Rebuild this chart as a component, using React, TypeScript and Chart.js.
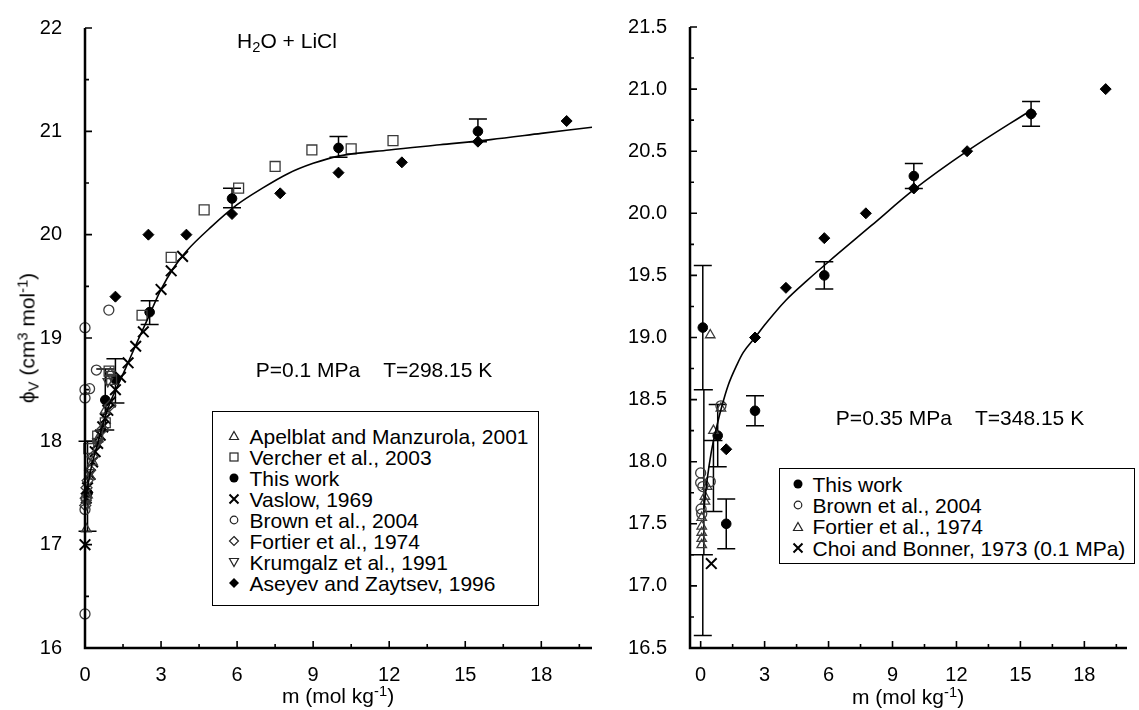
import React, { useEffect, useRef } from "react";
import { Chart, registerables } from "chart.js";
Chart.register(...registerables);

const FONT = '"Liberation Sans", Arial, Helvetica, sans-serif';

// ================= LEFT PANEL (P=0.1 MPa, T=298.15 K) =================
const L_apelblat = [[0.05, 17.15], [0.1, 17.48], [0.2, 17.66], [0.3, 17.8], [0.5, 18.02], [0.8, 18.3], [1.0, 18.66]];
const L_vercher = [[0.15, 17.93], [0.5, 18.05], [0.8, 18.18], [0.95, 18.68], [1.05, 18.6], [2.25, 19.22], [3.4, 19.78], [4.7, 20.24], [6.06, 20.45], [7.5, 20.66], [8.95, 20.82], [10.5, 20.83], [12.15, 20.91]];
const L_thisWork = [[0.1, 17.5], [0.8, 18.4], [1.2, 18.6], [2.55, 19.25], [5.8, 20.35], [10, 20.84], [15.5, 21.0]];
const L_thisWorkErr = [[17.13, 18.0], [18.11, 18.7], [18.37, 18.8], [19.13, 19.36], [20.26, 20.45], [20.75, 20.95], [20.9, 21.12]];
const L_vaslow = [[0, 17.0], [0.05, 17.45], [0.1, 17.55], [0.2, 17.68], [0.3, 17.8], [0.4, 17.9], [0.5, 17.98], [0.6, 18.06], [0.7, 18.14], [0.8, 18.22], [0.9, 18.3], [1.0, 18.38], [1.2, 18.5], [1.4, 18.62], [1.7, 18.76], [2.0, 18.92], [2.3, 19.06], [3.0, 19.47], [3.4, 19.65], [3.85, 19.79]];
const L_brown = [[0, 16.33], [0, 19.1], [0, 18.5], [0, 18.42], [0.18, 18.51], [0.45, 18.69], [0.94, 19.27], [0, 17.34], [0.05, 17.45]];
const L_fortier = [[0.01, 17.38], [0.03, 17.45], [0.06, 17.55], [0.1, 17.62], [0.2, 17.72], [0.3, 17.85], [0.5, 18.0], [0.7, 18.12], [1.0, 18.35]];
const L_krumgalz = [[0.05, 17.4], [0.2, 17.7], [0.5, 18.0], [0.9, 18.58], [1.0, 18.65]];
const L_aseyev = [[1.2, 19.4], [2.5, 20.0], [4.0, 20.0], [5.8, 20.2], [7.7, 20.4], [10, 20.6], [12.5, 20.7], [15.5, 20.9], [19, 21.1]];
const L_fitM = [0, 0.1, 0.25, 0.5, 0.75, 1, 1.5, 2, 2.5, 3, 3.5, 4, 5, 6, 7, 8, 9, 10, 12, 14, 16, 18, 20];
const L_fitY = [17.4, 17.55, 17.75, 17.98, 18.2, 18.38, 18.65, 18.93, 19.2, 19.47, 19.68, 19.84, 20.08, 20.29, 20.45, 20.59, 20.69, 20.76, 20.82, 20.87, 20.92, 20.98, 21.04];
const L_yLabels = [16, 17, 18, 19, 20, 21, 22];
const L_yMinor = [16.5, 17.5, 18.5, 19.5, 20.5, 21.5];
const L_xLabels = [0, 3, 6, 9, 12, 15, 18];
const L_xMinor = [1.5, 4.5, 7.5, 10.5, 13.5, 16.5, 19.5];

// ================= RIGHT PANEL (P=0.35 MPa, T=348.15 K) =================
const R_thisWork = [[0.1, 19.08], [0.8, 18.21], [1.2, 17.5], [2.55, 18.41], [5.8, 19.5], [10, 20.3], [15.5, 20.8]];
const R_thisWorkErr = [[18.58, 19.58], [17.96, 18.46], [17.3, 17.7], [18.29, 18.53], [19.39, 19.61], [20.2, 20.4], [20.7, 20.9]];
const R_extraBars = [[0.1, 16.6, 17.25], [0.15, 17.25, 18.58], [0.6, 17.6, 18.17]];
const R_brown = [[0, 17.91], [0, 17.83], [0.02, 17.62], [0.05, 17.58], [0.45, 17.84], [0.95, 18.45], [0.1, 17.8]];
const R_fortier = [[0.45, 19.02], [0.95, 18.43], [0.6, 18.25], [0.3, 17.8], [0.2, 17.72], [0.2, 17.68], [0.05, 17.55], [0.05, 17.48], [0.05, 17.43], [0.05, 17.38], [0.05, 17.33]];
const R_choi = [[0.5, 17.18]];
const R_aseyev = [[1.2, 18.1], [2.55, 19.0], [4.0, 19.4], [5.8, 19.8], [7.75, 20.0], [10, 20.2], [12.5, 20.5], [15.5, 20.8], [19, 21.0]];
const R_fitM = [0.15, 0.3, 0.5, 0.75, 1.0, 1.3, 1.7, 2.0, 2.6, 3.0, 4.0, 5.0, 6.0, 8.0, 10.0, 12.5, 15.5];
const R_fitY = [17.62, 17.85, 18.08, 18.28, 18.45, 18.62, 18.78, 18.88, 19.01, 19.1, 19.3, 19.46, 19.61, 19.9, 20.19, 20.5, 20.83];
const R_yLabels = [16.5, 17, 17.5, 18, 18.5, 19, 19.5, 20, 20.5, 21, 21.5];
const R_yMinor = [16.75, 17.25, 17.75, 18.25, 18.75, 19.25, 19.75, 20.25, 20.75, 21.25];
const R_xLabels = [0, 3, 6, 9, 12, 15, 18];
const R_xMinor = [1.5, 4.5, 7.5, 10.5, 13.5, 16.5, 19.5];

const L_legend = [
  ["triUp", "Apelblat and Manzurola, 2001"],
  ["square", "Vercher et al., 2003"],
  ["dot", "This work"],
  ["cross", "Vaslow, 1969"],
  ["circle", "Brown et al., 2004"],
  ["diamond", "Fortier et al., 1974"],
  ["triDown", "Krumgalz et al., 1991"],
  ["diamondFill", "Aseyev and Zaytsev, 1996"],
];
const R_legend = [
  ["dot", "This work"],
  ["circle", "Brown et al., 2004"],
  ["triUp", "Fortier et al., 1974"],
  ["cross", "Choi and Bonner, 1973 (0.1 MPa)"],
];

const toXY = (a: number[][]) => a.map(([x, y]) => ({ x, y }));
const fitXY = (m: number[], y: number[]) => m.map((v, i) => ({ x: v, y: y[i] }));

const GRAY = "#3a3a3a";
function openDs(label: string, data: number[][], style: string, r: number, rot = 0) {
  return {
    label, data: toXY(data), pointStyle: style, pointRadius: r, pointRotation: rot,
    pointBorderColor: GRAY, pointBackgroundColor: "rgba(0,0,0,0)", pointBorderWidth: 1.3,
    borderColor: GRAY, backgroundColor: "rgba(0,0,0,0)", showLine: false, clip: false,
  };
}
function filledDs(label: string, data: number[][], style: string, r: number) {
  return {
    label, data: toXY(data), pointStyle: style, pointRadius: r,
    pointBorderColor: "#000", pointBackgroundColor: "#000", pointBorderWidth: 1,
    borderColor: "#000", backgroundColor: "#000", showLine: false, clip: false,
  };
}
function crossDs(label: string, data: number[][]) {
  return {
    label, data: toXY(data), pointStyle: "crossRot", pointRadius: 7.5,
    pointBorderColor: "#000", pointBackgroundColor: "#000", pointBorderWidth: 2,
    borderColor: "#000", showLine: false, clip: false,
  };
}
function fitDs(data: { x: number; y: number }[]) {
  return {
    label: "fit", data, showLine: true, pointRadius: 0, borderColor: "#000", borderWidth: 1.6,
    cubicInterpolationMode: "monotone", fill: false, clip: false,
  };
}

const axesPlugin = {
  id: "axesTicks",
  afterDatasetsDraw(chart: any, _a: any, opts: any) {
    const { ctx, chartArea: a, scales } = chart;
    const xs = scales.x, ys = scales.y;
    ctx.save();
    ctx.strokeStyle = "#000";
    ctx.lineWidth = 2.5;
    ctx.beginPath();
    ctx.moveTo(a.left, a.top);
    ctx.lineTo(a.left, a.bottom);
    ctx.lineTo(a.right, a.bottom);
    ctx.stroke();
    ctx.lineWidth = 1.6;
    ctx.beginPath();
    const xt = (vals: number[], len: number) => vals.forEach((v) => {
      const p = xs.getPixelForValue(v);
      ctx.moveTo(p, a.bottom); ctx.lineTo(p, a.bottom - len);
    });
    const yt = (vals: number[], len: number) => vals.forEach((v) => {
      const p = ys.getPixelForValue(v);
      ctx.moveTo(a.left, p); ctx.lineTo(a.left + len, p);
    });
    xt(opts.xMajor, 7); xt(opts.xMinor, 4);
    yt(opts.yMajor, 7); yt(opts.yMinor, 4);
    ctx.stroke();
    ctx.restore();
  },
};

const errorPlugin = {
  id: "errorBars",
  beforeDatasetsDraw(chart: any, _a: any, opts: any) {
    const { ctx, scales } = chart;
    const xs = scales.x, ys = scales.y;
    ctx.save();
    ctx.strokeStyle = "#000";
    ctx.lineWidth = 1.5;
    ctx.beginPath();
    (opts.bars as number[][]).forEach(([m, lo, hi]) => {
      const px = xs.getPixelForValue(m);
      const p1 = ys.getPixelForValue(lo), p2 = ys.getPixelForValue(hi);
      ctx.moveTo(px, p1); ctx.lineTo(px, p2);
      ctx.moveTo(px - 9, p1); ctx.lineTo(px + 9, p1);
      ctx.moveTo(px - 9, p2); ctx.lineTo(px + 9, p2);
    });
    ctx.stroke();
    ctx.restore();
  },
};

function makeConfig(p: any) {
  return {
    type: "scatter",
    data: { datasets: p.datasets },
    plugins: [errorPlugin, axesPlugin],
    options: {
      responsive: false,
      animation: false,
      devicePixelRatio: 1,
      events: [],
      layout: { autoPadding: false, padding: { left: 0, top: p.top, right: p.right, bottom: 0 } },
      plugins: {
        legend: { display: false },
        tooltip: { enabled: false },
        errorBars: { bars: p.bars },
        axesTicks: { xMajor: p.xLabels, xMinor: p.xMinor, yMajor: p.yLabels, yMinor: p.yMinor },
      },
      scales: {
        x: {
          type: "linear", min: p.xMin, max: p.xMax,
          grid: { display: false }, border: { display: false },
          afterBuildTicks: (s: any) => { s.ticks = p.xLabels.map((v: number) => ({ value: v })); },
          afterFit: (s: any) => { s.height = p.xHeight; },
          ticks: {
            autoSkip: false, maxRotation: 0, padding: 7, color: "#000",
            font: { family: FONT, size: 20 },
            callback: (v: number) => String(v),
          },
        },
        y: {
          type: "linear", min: p.yMin, max: p.yMax,
          grid: { display: false }, border: { display: false },
          afterBuildTicks: (s: any) => { s.ticks = p.yLabels.map((v: number) => ({ value: v })); },
          afterFit: (s: any) => { s.width = p.yWidth; },
          ticks: {
            autoSkip: false, padding: 15, color: "#000",
            font: { family: FONT, size: 20 },
            callback: (v: number) => p.yFmt(v),
          },
        },
      },
    },
  };
}

const leftParams = {
  datasets: [
    fitDs(fitXY(L_fitM, L_fitY)),
    openDs("Apelblat and Manzurola, 2001", L_apelblat, "triangle", 5.5),
    openDs("Vercher et al., 2003", L_vercher, "rect", 7),
    openDs("Brown et al., 2004", L_brown, "circle", 5),
    openDs("Fortier et al., 1974", L_fortier, "rectRot", 5.5),
    openDs("Krumgalz et al., 1991", L_krumgalz, "triangle", 5.5, 180),
    crossDs("Vaslow, 1969", L_vaslow),
    filledDs("Aseyev and Zaytsev, 1996", L_aseyev, "rectRot", 5.5),
    filledDs("This work", L_thisWork, "circle", 4.8),
  ],
  bars: L_thisWork.map(([m], i) => [m, L_thisWorkErr[i][0], L_thisWorkErr[i][1]]),
  xMin: 0, xMax: 20, yMin: 16, yMax: 22,
  xLabels: L_xLabels, xMinor: L_xMinor, yLabels: L_yLabels, yMinor: L_yMinor,
  top: 28, right: 18, xHeight: 62, yWidth: 85,
  yFmt: (v: number) => String(v),
};

const rightParams = {
  datasets: [
    fitDs(fitXY(R_fitM, R_fitY)),
    openDs("Brown et al., 2004", R_brown, "circle", 5),
    openDs("Fortier et al., 1974", R_fortier, "triangle", 5.5),
    crossDs("Choi and Bonner, 1973 (0.1 MPa)", R_choi),
    filledDs("Aseyev and Zaytsev, 1996", R_aseyev, "rectRot", 5.5),
    filledDs("This work", R_thisWork, "circle", 4.8),
  ],
  bars: [
    ...R_thisWork.map(([m], i) => [m, R_thisWorkErr[i][0], R_thisWorkErr[i][1]]),
    ...R_extraBars,
  ],
  xMin: -0.5, xMax: 20, yMin: 16.5, yMax: 21.5,
  xLabels: R_xLabels, xMinor: R_xMinor, yLabels: R_yLabels, yMinor: R_yMinor,
  top: 16, right: 12, xHeight: 62, yWidth: 70,
  yFmt: (v: number) => v.toFixed(1),
};

const supS: React.CSSProperties = { fontSize: "70%", verticalAlign: "baseline", position: "relative", top: "-0.5em", lineHeight: 0 };
const subS: React.CSSProperties = { fontSize: "70%", verticalAlign: "baseline", position: "relative", top: "0.3em", lineHeight: 0 };

function Marker({ kind, x, y }: { kind: string; x: number; y: number }) {
  let el: any = null;
  const st = { fill: "none", stroke: "#222", strokeWidth: 1.2 };
  switch (kind) {
    case "triUp": el = <polygon points="7,2.5 11.5,10.5 2.5,10.5" {...st} />; break;
    case "triDown": el = <polygon points="2.5,3.5 11.5,3.5 7,11.5" {...st} />; break;
    case "square": el = <rect x={3} y={3} width={8} height={8} {...st} />; break;
    case "dot": el = <circle cx={7} cy={7} r={4.5} fill="#000" />; break;
    case "cross": el = <path d="M2.5,2.5 L11.5,11.5 M11.5,2.5 L2.5,11.5" stroke="#000" strokeWidth={2} />; break;
    case "circle": el = <circle cx={7} cy={7} r={3.8} {...st} />; break;
    case "diamond": el = <polygon points="7,2.5 11.5,7 7,11.5 2.5,7" {...st} />; break;
    case "diamondFill": el = <polygon points="7,2 12,7 7,12 2,7" fill="#000" />; break;
  }
  return (
    <svg width={14} height={14} style={{ position: "absolute", left: x - 7, top: y - 7 }}>{el}</svg>
  );
}

function Legend({ items, left, top, width, height, firstRow, rowGap, markX, textX }: any) {
  return (
    <div style={{ position: "absolute", left, top, width, height, border: "1.5px solid #000", boxSizing: "border-box", background: "#fff" }}>
      {items.map(([k, t]: string[], i: number) => {
        const cy = firstRow + i * rowGap;
        return (
          <React.Fragment key={i}>
            <Marker kind={k} x={markX} y={cy} />
            <div style={{ position: "absolute", left: textX, top: cy - 10.5, fontSize: 21, lineHeight: "21px", whiteSpace: "nowrap" }}>{t}</div>
          </React.Fragment>
        );
      })}
    </div>
  );
}

function Label({ x, y, rot, children }: any) {
  return (
    <div style={{
      position: "absolute", left: x, top: y, fontSize: 21, lineHeight: "21px", whiteSpace: "pre",
      transform: `translate(-50%,-50%)${rot ? " rotate(-90deg)" : ""}`,
    }}>{children}</div>
  );
}

export default function App() {
  const lRef = useRef<HTMLCanvasElement>(null);
  const rRef = useRef<HTMLCanvasElement>(null);
  useEffect(() => {
    const c1 = new Chart(lRef.current as any, makeConfig(leftParams) as any);
    const c2 = new Chart(rRef.current as any, makeConfig(rightParams) as any);
    return () => { c1.destroy(); c2.destroy(); };
  }, []);
  return (
    <div style={{ position: "fixed", left: 0, top: 0, width: 1139, height: 710, background: "#fff", fontFamily: FONT, color: "#000", overflow: "hidden" }}>
      <canvas ref={lRef} width={610} height={710} style={{ position: "absolute", left: 0, top: 0, width: 610, height: 710 }} />
      <canvas ref={rRef} width={519} height={710} style={{ position: "absolute", left: 620, top: 0, width: 519, height: 710 }} />

      <Label x={287} y={40}>H<span style={subS}>2</span>O + LiCl</Label>
      <Label x={374} y={369}>{"P=0.1 MPa    T=298.15 K"}</Label>
      <Label x={960} y={417}>{"P=0.35 MPa    T=348.15 K"}</Label>

      <Label x={27} y={338} rot>ϕ<span style={subS}>V</span> (cm<span style={supS}>3</span> mol<span style={supS}>-1</span>)</Label>
      <Label x={338} y={695}>m (mol kg<span style={supS}>-1</span>)</Label>
      <Label x={908} y={696}>m (mol kg<span style={supS}>-1</span>)</Label>

      <Legend items={L_legend} left={212} top={411} width={327} height={195} firstRow={24} rowGap={21.05} markX={20.5} textX={36.5} />
      <Legend items={R_legend} left={779} top={468} width={356} height={96} firstRow={15} rowGap={21.4} markX={18} textX={32.5} />
    </div>
  );
}
